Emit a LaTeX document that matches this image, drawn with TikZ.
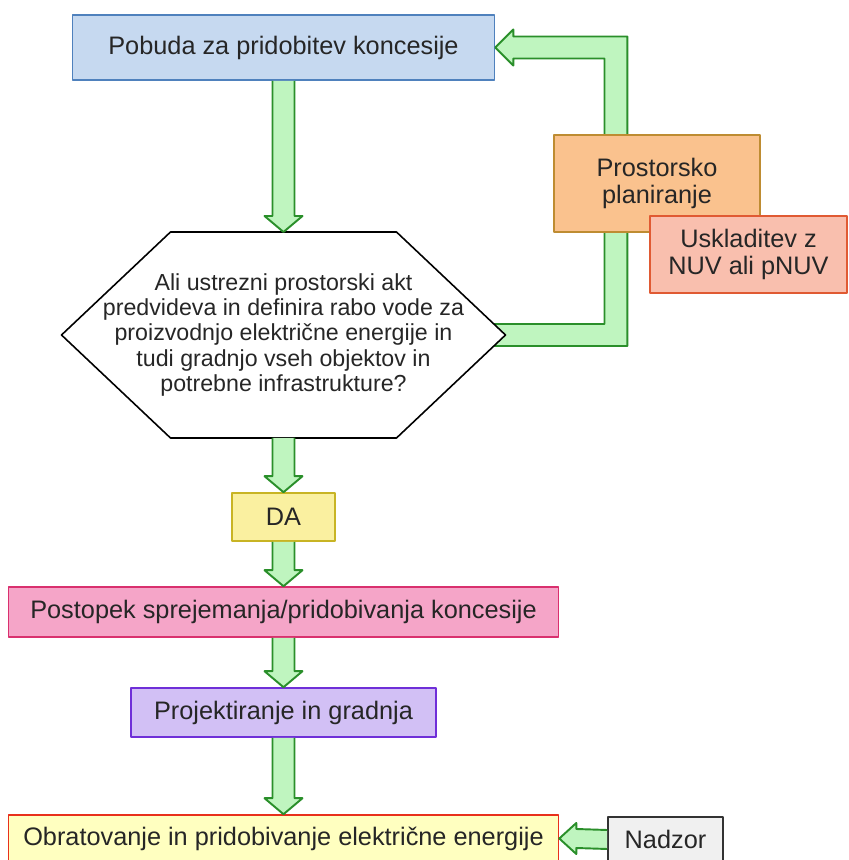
\documentclass[tikz,border=0pt]{standalone}
\usepackage{fontspec}
\setmainfont{Liberation Sans}
\usetikzlibrary{calc}
\definecolor{arrfill}{HTML}{BFF5BF}
\definecolor{arrline}{HTML}{2A8F2A}
\begin{document}
\begin{tikzpicture}[line join=round,
  box/.style={draw, line width=0.9pt, inner sep=2pt, align=center, text=black!85,
    font=\fontsize{14.4}{15.8}\selectfont},
  blk/.style={draw=arrline, fill=arrfill, line width=1.1pt}]
\useasboundingbox (0,0) rectangle (16.96,17.2);
\coordinate (hexW) at (1.23,10.5);
\coordinate (hexE) at (10.11,10.5);
\coordinate (hexN) at (5.67,12.56);
\coordinate (hexS) at (5.67,8.44);
\node[box, fill={rgb,255:red,198;green,217;blue,240}, draw={rgb,255:red,79;green,129;blue,189},
  minimum width=8.44cm, minimum height=1.3cm] (pobuda) at (5.67,16.25) {Pobuda za pridobitev koncesije};
\draw[blk] ($(hexE)+(-0.6,-0.22)$) -| ($(pobuda.east)+(2.64,0.22)$) -- ($(pobuda.east)+(0.36,0.22)$)
  -- ++(0,0.14) -- (pobuda.east) -- ++(0.36,-0.36) -- ++(0,0.14) -| ($(hexE)+(1.98,0.22)$)
  -- ($(hexE)+(-0.6,0.22)$);
\draw[line width=0.9pt, fill=white] (hexW) -- (3.41,12.56) -- (7.93,12.56) -- (hexE)
  -- (7.93,8.44) -- (3.41,8.44) -- cycle;
\node[align=center, text=black!85, font=\fontsize{13.2}{14.5}\selectfont] (qa) at (5.67,10.5)
  {Ali ustrezni prostorski akt\\predvideva in definira rabo vode za\\proizvodnjo električne energije in\\tudi gradnjo vseh objektov in\\potrebne infrastrukture?};
\node[box, fill={rgb,255:red,250;green,194;blue,142}, draw={rgb,255:red,190;green,140;blue,50},
  minimum width=4.12cm, minimum height=1.94cm] (prost) at (13.14,13.53) {Prostorsko\\planiranje};
\node[box, fill={rgb,255:red,249;green,191;blue,174}, draw={rgb,255:red,224;green,90;blue,51},
  minimum width=3.94cm, minimum height=1.54cm] (uskl) at (14.97,12.11) {Uskladitev z\\NUV ali pNUV};
\node[box, fill={rgb,255:red,250;green,240;blue,160}, draw={rgb,255:red,200;green,180;blue,36},
  minimum width=2.06cm, minimum height=0.96cm] (da) at (5.67,6.86) {DA};
\node[box, fill={rgb,255:red,245;green,165;blue,200}, draw={rgb,255:red,217;green,48;blue,110},
  minimum width=11cm, minimum height=1cm] (post) at (5.67,4.96) {Postopek sprejemanja/pridobivanja koncesije};
\node[box, fill={rgb,255:red,210;green,192;blue,245}, draw={rgb,255:red,111;green,47;blue,216},
  minimum width=6.1cm, minimum height=0.98cm] (proj) at (5.67,2.95) {Projektiranje in gradnja};
\node[box, fill={rgb,255:red,255;green,255;blue,192}, draw={rgb,255:red,232;green,48;blue,28},
  minimum width=11cm, minimum height=0.94cm] (obr) at (5.67,0.43) {Obratovanje in pridobivanje električne energije};
\node[box, fill={rgb,255:red,240;green,240;blue,240}, draw=black!80,
  minimum width=2.3cm, minimum height=0.9cm] (nadzor) at (13.31,0.41) {Nadzor};
\foreach \a/\b in {pobuda.south/hexN, hexS/da.north, da.south/post.north, post.south/proj.north, proj.south/obr.north}
  \draw[blk] ($(\a)+(-0.22,0)$) -- ($(\b)+(-0.22,0.32)$) -- ($(\b)+(-0.38,0.32)$) -- (\b)
    -- ($(\b)+(0.38,0.32)$) -- ($(\b)+(0.22,0.32)$) -- ($(\a)+(0.22,0)$);
\draw[blk] ($(nadzor.west)+(0,0.19)$) -- ($(obr.east)+(0.34,0.19)$) -- ++(0,0.12) -- (obr.east)
  -- ++(0.34,-0.31) -- ++(0,0.12) -- ($(nadzor.west)+(0,-0.19)$);
\end{tikzpicture}
\end{document}
